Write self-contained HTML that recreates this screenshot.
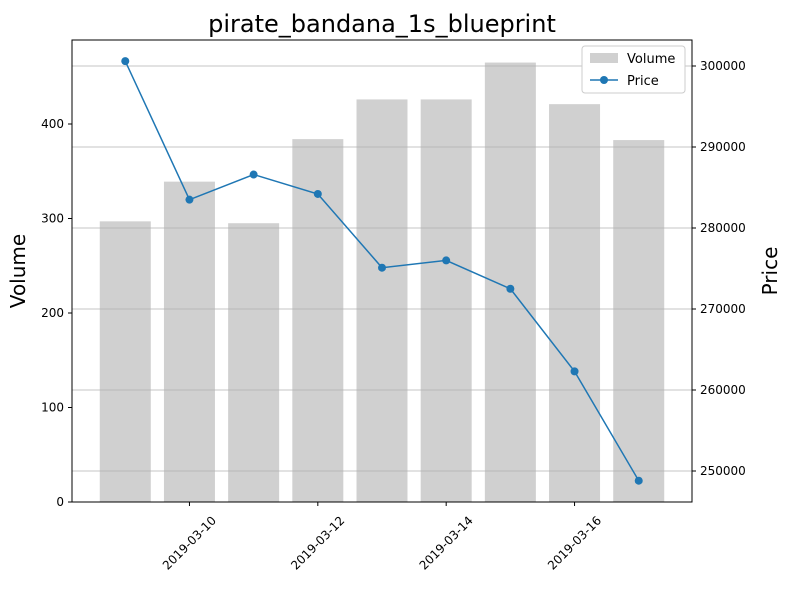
<!DOCTYPE html>
<html><head><meta charset="utf-8"><style>
body{margin:0;background:#fff;font-family:"Liberation Sans","DejaVu Sans",sans-serif;}
svg text{font-family:"DejaVu Sans","Liberation Sans",sans-serif;}
</style></head><body>
<svg id="chart" width="789" height="588" xmlns="http://www.w3.org/2000/svg">
<text x="382" y="32" font-size="24" text-anchor="middle">pirate_bandana_1s_blueprint</text>
<g id="bars"></g><g id="grid"></g><g id="line"></g><g id="axes"></g>
<g>
<rect x="582" y="46" width="103" height="47" fill="#fff" stroke="#ccc" rx="3"/>
<rect x="590" y="53" width="28" height="10" fill="#d0d0d0"/>
<text x="627" y="63" font-size="13">Volume</text>
<line x1="590" y1="80" x2="618" y2="80" stroke="#1f77b4" stroke-width="1.5"/>
<circle cx="604" cy="80" r="4" fill="#1f77b4"/>
<text x="627" y="85" font-size="13">Price</text>
</g>
</svg>
<script>
const dates=["2019-03-09","2019-03-10","2019-03-11","2019-03-12","2019-03-13","2019-03-14","2019-03-15","2019-03-16","2019-03-17"];
const volume=[297,339,295,384,426,426,465,421,383];
const price=[300600,283500,286600,284200,275100,276000,272500,262300,248800];
const volTicks=[0,100,200,300,400];
const priceTicks=[250000,260000,270000,280000,290000,300000];
const xTickIdx=[1,3,5,7];
const L=72,R=692,T=40,B=502;
const ns="http://www.w3.org/2000/svg";
function mk(tag,attrs,parent){const e=document.createElementNS(ns,tag);for(const k in attrs)e.setAttribute(k,attrs[k]);document.getElementById(parent).appendChild(e);return e;}
const x=i=>L+(i+0.83)*(R-L)/9.66;
const yV=v=>B-v*0.945;
const yP=p=>471-(p-250000)*81/10000;
priceTicks.forEach(p=>{const g=mk('line',{x1:L,x2:R,y1:yP(p),y2:yP(p),stroke:'#b0b0b0','stroke-width':0.8},'grid');

});
volume.forEach((v,i)=>{const r=mk('rect',{x:x(i)-25.5,y:yV(v),width:51,height:B-yV(v),fill:'#d0d0d0'},'bars');

});
const pl=mk('polyline',{points:price.map((p,i)=>x(i)+','+yP(p)).join(' '),fill:'none',stroke:'#1f77b4','stroke-width':1.5},'line');


price.forEach((p,i)=>{const c=mk('circle',{cx:x(i),cy:yP(p),r:4,fill:'#1f77b4'},'line');

});
const fr=mk('rect',{x:L,y:T,width:R-L,height:B-T,fill:'none',stroke:'#000','stroke-width':1},'axes');


volTicks.forEach(v=>{mk('line',{x1:L-4,x2:L,y1:yV(v),y2:yV(v),stroke:'#000'},'axes');
const t=mk('text',{x:L-8,y:yV(v)+4,'font-size':12,'text-anchor':'end'},'axes');t.textContent=v;

});
priceTicks.forEach(p=>{mk('line',{x1:R,x2:R+4,y1:yP(p),y2:yP(p),stroke:'#000'},'axes');
const t=mk('text',{x:R+8,y:yP(p)+4,'font-size':12},'axes');t.textContent=p;

});
xTickIdx.forEach(i=>{mk('line',{x1:x(i),x2:x(i),y1:B,y2:B+4,stroke:'#000'},'axes');
const cx=x(i),cy=B+41;
const t=mk('text',{x:cx,y:cy+4,'font-size':12,'text-anchor':'middle',transform:`rotate(-45 ${cx} ${cy})`},'axes');t.textContent=dates[i];

});
const yl=mk('text',{x:25,y:271,'font-size':20,'text-anchor':'middle',transform:'rotate(-90 25 271)'},'axes');yl.textContent='Volume';


const yr=mk('text',{x:777,y:271,'font-size':20,'text-anchor':'middle',transform:'rotate(-90 777 271)'},'axes');yr.textContent='Price';


</script>
</body></html>
